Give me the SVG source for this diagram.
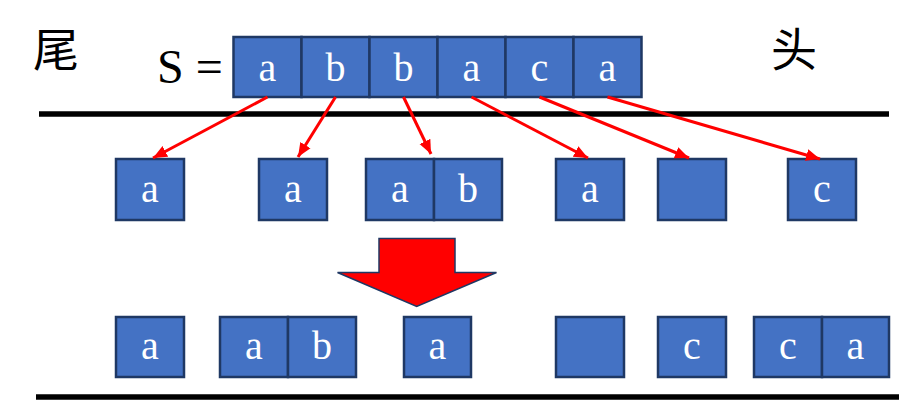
<svg xmlns="http://www.w3.org/2000/svg" width="903" height="400" viewBox="0 0 903 400">
<style>
.cell{fill:#4472C4;stroke:#1F3864;stroke-width:2.5}
.lt{font-family:'Liberation Serif',serif;font-size:40px;fill:#fff;text-anchor:middle}
.cjk{font-family:'Noto Sans CJK SC',sans-serif;font-size:46px;fill:#000;text-anchor:middle}
.bar{stroke:#000;stroke-width:5.5}
.conn{stroke:#FF0000;stroke-width:3;fill:none;marker-end:url(#ah)}
</style>
<defs>
<marker id="ah" markerUnits="userSpaceOnUse" markerWidth="16" markerHeight="14" refX="14" refY="6" orient="auto" viewBox="0 0 16 12">
<path d="M0,0 L14,6 L0,12 Z" fill="#FF0000"/>
</marker>
</defs>
<rect width="903" height="400" fill="#fff"/>
<g id="labels">
<text class="cjk" x="56" y="66">&#x5C3E;</text>
<text class="cjk" x="794" y="66">&#x5934;</text>
</g>
<g id="s-label">
<text x="157" y="83" font-size="48" fill="#000" font-family="Liberation Serif, serif">S =</text>
</g>
<g id="bars">
<line class="bar" x1="39" y1="114" x2="889" y2="114"/>
<line class="bar" x1="36" y1="397" x2="899" y2="397"/>
</g>
<g id="string-S">
<rect class="cell" x="233.5" y="37" width="68" height="60"/>
<rect class="cell" x="301.5" y="37" width="68" height="60"/>
<rect class="cell" x="369.5" y="37" width="68" height="60"/>
<rect class="cell" x="437.5" y="37" width="68" height="60"/>
<rect class="cell" x="505.5" y="37" width="68" height="60"/>
<rect class="cell" x="573.5" y="37" width="68" height="60"/>
<text class="lt" x="267.5" y="81">a</text>
<text class="lt" x="335.5" y="81">b</text>
<text class="lt" x="403.5" y="81">b</text>
<text class="lt" x="471.5" y="81">a</text>
<text class="lt" x="539.5" y="81">c</text>
<text class="lt" x="607.5" y="81">a</text>
</g>
<g id="mid-1"><rect class="cell" x="116" y="159" width="68" height="61"/><text class="lt" x="150" y="202">a</text></g>
<g id="mid-2"><rect class="cell" x="259" y="159" width="68" height="61"/><text class="lt" x="293" y="202">a</text></g>
<g id="mid-3"><rect class="cell" x="366" y="159" width="68" height="61"/><rect class="cell" x="434" y="159" width="68" height="61"/><text class="lt" x="400" y="202">a</text><text class="lt" x="468" y="202">b</text></g>
<g id="mid-4"><rect class="cell" x="556" y="159" width="68" height="61"/><text class="lt" x="590" y="202">a</text></g>
<g id="mid-5"><rect class="cell" x="658" y="159" width="68" height="61"/></g>
<g id="mid-6"><rect class="cell" x="788" y="159" width="68" height="61"/><text class="lt" x="822" y="202">c</text></g>
<g id="big-arrow">
<polygon points="379,238.5 455,238.5 455,272.5 496.5,272.5 416.7,306.5 337.5,272.5 379,272.5" fill="#FF0000" stroke="#1F3864" stroke-width="1.5"/>
</g>
<g id="bot-1"><rect class="cell" x="116" y="317" width="68" height="60"/><text class="lt" x="150" y="359">a</text></g>
<g id="bot-2"><rect class="cell" x="220" y="317" width="68" height="60"/><rect class="cell" x="288" y="317" width="68" height="60"/><text class="lt" x="254" y="359">a</text><text class="lt" x="322" y="359">b</text></g>
<g id="bot-3"><rect class="cell" x="404" y="317" width="67" height="60"/><text class="lt" x="437.5" y="359">a</text></g>
<g id="bot-4"><rect class="cell" x="556" y="317" width="68" height="60"/></g>
<g id="bot-5"><rect class="cell" x="658" y="317" width="68" height="60"/><text class="lt" x="692" y="359">c</text></g>
<g id="bot-6"><rect class="cell" x="754" y="317" width="68" height="60"/><rect class="cell" x="822" y="317" width="67" height="60"/><text class="lt" x="788" y="359">c</text><text class="lt" x="855.5" y="359">a</text></g>
<g id="connectors">
<line class="conn" x1="267.5" y1="97" x2="153" y2="158"/>
<line class="conn" x1="335.5" y1="97" x2="298" y2="157"/>
<line class="conn" x1="403.5" y1="97" x2="431" y2="154"/>
<line class="conn" x1="471.5" y1="97" x2="588" y2="158"/>
<line class="conn" x1="539.5" y1="97" x2="689" y2="158"/>
<line class="conn" x1="607.5" y1="97" x2="820" y2="159"/>
</g>
</svg>
